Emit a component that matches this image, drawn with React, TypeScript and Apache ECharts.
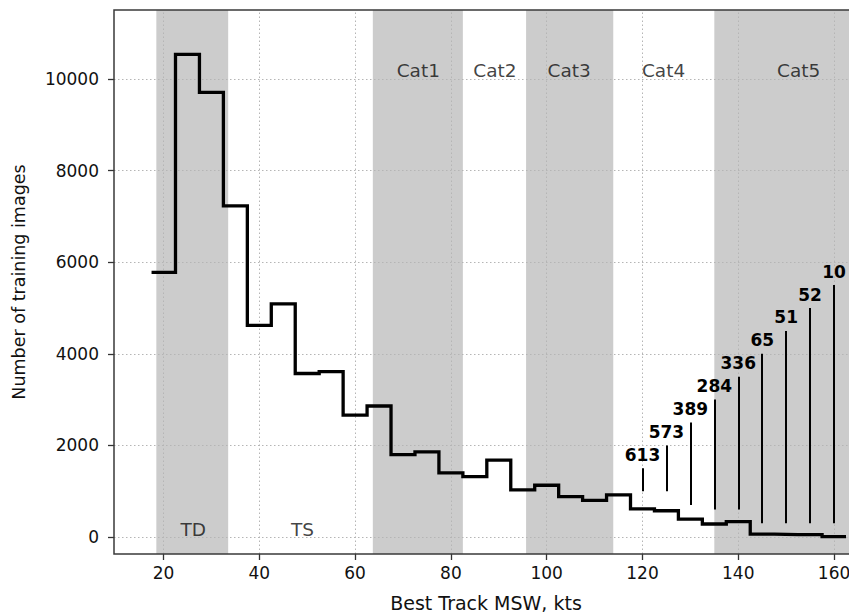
import React, { useEffect, useRef } from 'react';
import * as echarts from 'echarts';

const binCenters = [20, 25, 30, 35, 40, 45, 50, 55, 60, 65, 70, 75, 80, 85, 90, 95, 100, 105, 110, 115, 120, 125, 130, 135, 140, 145, 150, 155, 160];
const counts = [5780, 10540, 9710, 7230, 4620, 5090, 3570, 3610, 2660, 2860, 1800, 1860, 1400, 1320, 1680, 1030, 1130, 880, 800, 920, 613, 573, 389, 284, 336, 65, 51, 52, 10];
const binWidth = 5;

const annX = [120, 125, 130, 135, 140, 145, 150, 155, 160];
const annLow = [1000, 1000, 700, 600, 600, 300, 300, 300, 300];
const annHigh = [1500, 2000, 2500, 3000, 3500, 4000, 4500, 5000, 5500];
const annLabels = ['613', '573', '389', '284', '336', '65', '51', '52', '10'];

const bandStart = [18.5, 63.7, 95.7, 135];
const bandEnd = [33.5, 82.5, 113.9, 170];

const classNames = ['TD', 'TS', 'Cat1', 'Cat2', 'Cat3', 'Cat4', 'Cat5'];
const classX = [26.2, 49.0, 73.2, 89.2, 104.7, 124.4, 152.6];
const classY = [168, 168, 10180, 10180, 10180, 10180, 10180];

const xTicks = [20, 40, 60, 80, 100, 120, 140, 160];
const yTicks = [0, 2000, 4000, 6000, 8000, 10000];

const FONT = 'DejaVu Sans';

export default function App() {
  const ref = useRef<HTMLDivElement>(null);
  useEffect(() => {
    if (!ref.current) return;
    const chart = echarts.init(ref.current, null, { renderer: 'svg' });
    const stepPts: number[][] = [];
    binCenters.forEach((c, i) => {
      stepPts.push([c - binWidth / 2, counts[i]]);
      stepPts.push([c + binWidth / 2, counts[i]]);
    });
    const option: any = {
      animation: false,
      backgroundColor: '#fff',
      grid: {
        left: 114,
        top: 10,
        bottom: 59,
        right: 0,
        outerBoundsMode: 'none',
        containLabel: false,
        show: true,
        borderColor: '#3a3a3a',
        borderWidth: 1.5,
        backgroundColor: 'transparent',
        z: 10,
      },
      xAxis: {
        type: 'value',
        min: 9.66,
        max: 165,
        axisLine: { show: false, onZero: false },
        splitLine: { show: false },
        axisTick: { show: true, length: 6, lineStyle: { color: '#333', width: 1.3 }, customValues: xTicks },
        axisLabel: { customValues: xTicks, fontSize: 17, fontFamily: FONT, color: '#111', margin: 10 },
        name: 'Best Track MSW, kts',
        nameLocation: 'middle',
        nameGap: 39,
        nameTextStyle: { fontSize: 19, fontFamily: FONT, color: '#111' },
      },
      yAxis: {
        type: 'value',
        min: -371,
        max: 11507,
        axisLine: { show: false, onZero: false },
        splitLine: { show: false },
        axisTick: { show: true, length: 6, lineStyle: { color: '#333', width: 1.3 }, customValues: yTicks },
        axisLabel: {
          customValues: yTicks,
          fontSize: 17,
          fontFamily: FONT,
          color: '#111',
          margin: 15,
          formatter: (v: number) => String(v),
        },
        name: 'Number of training images',
        nameLocation: 'middle',
        nameGap: 86,
        nameTextStyle: { fontSize: 17.5, fontFamily: FONT, color: '#111' },
      },
      series: [
        {
          type: 'line',
          data: [],
          z: -2,
          silent: true,
          markArea: {
            silent: true,
            itemStyle: { color: '#cccccc', opacity: 1 },
            data: bandStart.map((s, i) => [{ xAxis: s }, { xAxis: bandEnd[i] }]),
          },
        },
        {
          type: 'line',
          data: [],
          z: -1,
          silent: true,
          markLine: {
            silent: true,
            symbol: ['none', 'none'],
            label: { show: false },
            lineStyle: { color: '#b5b5b5', type: [1.5, 2.5], width: 1 },
            data: [
              ...xTicks.map((v) => ({ xAxis: v })),
              ...yTicks.map((v) => ({ yAxis: v })),
            ],
          },
        },
        {
          type: 'line',
          data: stepPts,
          showSymbol: false,
          symbol: 'none',
          z: 5,
          lineStyle: { color: '#000', width: 3.3, join: 'miter', cap: 'butt' },
          markLine: {
            silent: true,
            symbol: ['none', 'none'],
            lineStyle: { color: '#000', width: 2, type: 'solid' },
            label: {
              show: true,
              position: 'end',
              distance: 5,
              formatter: '{b}',
              fontSize: 17,
              fontWeight: 'bold',
              fontFamily: FONT,
              color: '#000',
            },
            data: annX.map((x, i) => [
              { name: annLabels[i], coord: [x, annLow[i]] },
              { coord: [x, annHigh[i]] },
            ]),
          },
        },
        {
          type: 'scatter',
          z: 6,
          silent: true,
          symbolSize: 1,
          itemStyle: { color: 'transparent' },
          data: classX.map((x, i) => [x, classY[i], classNames[i]]),
          label: {
            show: true,
            position: 'inside',
            formatter: (p: any) => p.value[2],
            fontSize: 18.5,
            fontFamily: FONT,
            color: '#111',
          },
        },
      ],
    };
    chart.setOption(option);
    return () => chart.dispose();
  }, []);
  return <div ref={ref} style={{ position: 'fixed', left: 0, top: 0, width: 858, height: 613 }} />;
}
